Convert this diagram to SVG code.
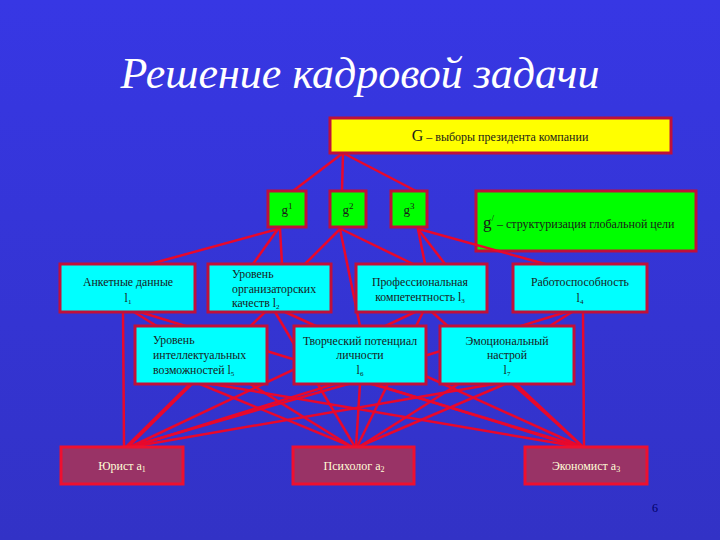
<svg xmlns="http://www.w3.org/2000/svg" width="720" height="540" viewBox="0 0 720 540">
<defs>
<linearGradient id="bg" x1="0" y1="0" x2="0" y2="1">
<stop offset="0" stop-color="#3737e4"/>
<stop offset="1" stop-color="#3232c6"/>
</linearGradient>
<style>
.t{font-family:"Liberation Serif","Times New Roman",serif;fill:#1a1a1a}
.box{stroke:#c0103a;stroke-width:3}
.y{fill:#ffff00}
.g{fill:#00ff00}
.c{fill:#00ffff}
.a{fill:#993366;stroke:#ee1030;stroke-width:3}
.s{font-size:11.8px}
.w{fill:#ffffd8;font-size:12px}
#connectors line{stroke:#e8082c;stroke-width:2.5;stroke-linecap:round}
</style>
</defs>
<rect width="720" height="540" fill="url(#bg)"/>
<text x="360" y="88" text-anchor="middle" font-family="Liberation Serif, serif" font-style="italic" font-size="44" fill="#ffffff">Решение кадровой задачи</text>

<g id="node-gprime">
<rect class="box g" x="476" y="191" width="220" height="60"/>
<text class="t" x="483" y="228"><tspan font-size="17">g</tspan><tspan font-size="9" dy="-7">/</tspan><tspan font-size="12" dy="7"> – структуризация глобальной цели</tspan></text>
</g>

<g id="connectors">
<line x1="343" y1="153" x2="293" y2="191"/>
<line x1="343" y1="153" x2="342" y2="191"/>
<line x1="343" y1="153" x2="416" y2="191"/>
<line x1="278" y1="229" x2="150" y2="264"/>
<line x1="278" y1="229" x2="253" y2="264"/>
<line x1="280" y1="229" x2="282" y2="264"/>
<line x1="340" y1="229" x2="305" y2="264"/>
<line x1="340" y1="229" x2="360" y2="326"/>
<line x1="341" y1="229" x2="413" y2="264"/>
<line x1="418" y1="229" x2="425" y2="264"/>
<line x1="418" y1="229" x2="445" y2="264"/>
<line x1="419" y1="229" x2="545" y2="264"/>
<line x1="123" y1="312" x2="124" y2="447"/>
<line x1="134" y1="312" x2="352" y2="447"/>
<line x1="140" y1="312" x2="578" y2="447"/>
<line x1="265" y1="312" x2="128" y2="447"/>
<line x1="275" y1="312" x2="355" y2="447"/>
<line x1="285" y1="312" x2="582" y2="447"/>
<line x1="415" y1="312" x2="130" y2="447"/>
<line x1="423" y1="312" x2="357" y2="447"/>
<line x1="432" y1="312" x2="583" y2="447"/>
<line x1="566" y1="312" x2="132" y2="447"/>
<line x1="572" y1="312" x2="359" y2="447"/>
<line x1="583" y1="312" x2="584" y2="447"/>
<line x1="190" y1="384" x2="126" y2="447"/>
<line x1="200" y1="384" x2="353" y2="447"/>
<line x1="212" y1="384" x2="580" y2="447"/>
<line x1="348" y1="384" x2="129" y2="447"/>
<line x1="360" y1="384" x2="356" y2="447"/>
<line x1="372" y1="384" x2="582" y2="447"/>
<line x1="494" y1="384" x2="131" y2="447"/>
<line x1="505" y1="384" x2="358" y2="447"/>
<line x1="516" y1="384" x2="583" y2="447"/>
</g>

<g id="node-G">
<rect class="box y" x="330" y="118" width="341" height="35"/>
<text class="t" x="500" y="141" text-anchor="middle"><tspan font-size="16">G</tspan><tspan font-size="12"> – выборы президента компании</tspan></text>
</g>
<g id="node-g1">
<rect class="box g" x="268" y="191" width="38" height="36"/>
<text class="t" x="287" y="214" text-anchor="middle"><tspan font-size="13">g</tspan><tspan font-size="9" dy="-5">1</tspan></text>
</g>
<g id="node-g2">
<rect class="box g" x="330" y="191" width="36" height="36"/>
<text class="t" x="348" y="214" text-anchor="middle"><tspan font-size="13">g</tspan><tspan font-size="9" dy="-5">2</tspan></text>
</g>
<g id="node-g3">
<rect class="box g" x="391" y="191" width="36" height="36"/>
<text class="t" x="409" y="214" text-anchor="middle"><tspan font-size="13">g</tspan><tspan font-size="9" dy="-5">3</tspan></text>
</g>

<g id="node-l1">
<rect class="box c" x="60" y="264" width="135" height="48"/>
<text class="t s" x="128" y="286" text-anchor="middle">Анкетные данные</text>
<text class="t s" x="128" y="302" text-anchor="middle">l<tspan font-size="7" dy="2">1</tspan></text>
</g>
<g id="node-l2">
<rect class="box c" x="208" y="264" width="123" height="48"/>
<text class="t s" x="232" y="278">Уровень</text>
<text class="t s" x="232" y="293">организаторских</text>
<text class="t s" x="232" y="307">качеств l<tspan font-size="7" dy="2">2</tspan></text>
</g>
<g id="node-l3">
<rect class="box c" x="356" y="264" width="131" height="48"/>
<text class="t s" x="420" y="286" text-anchor="middle">Профессиональная</text>
<text class="t s" x="420" y="301" text-anchor="middle">компетентность l<tspan font-size="7" dy="2">3</tspan></text>
</g>
<g id="node-l4">
<rect class="box c" x="513" y="264" width="134" height="48"/>
<text class="t s" x="580" y="286" text-anchor="middle">Работоспособность</text>
<text class="t s" x="580" y="302" text-anchor="middle">l<tspan font-size="7" dy="2">4</tspan></text>
</g>
<g id="node-l5">
<rect class="box c" x="135" y="326" width="132" height="58"/>
<text class="t s" x="153" y="344">Уровень</text>
<text class="t s" x="153" y="359">интеллектуальных</text>
<text class="t s" x="153" y="374">возможностей l<tspan font-size="7" dy="2">5</tspan></text>
</g>
<g id="node-l6">
<rect class="box c" x="294" y="326" width="132" height="58"/>
<text class="t s" x="360" y="345" text-anchor="middle">Творческий потенциал</text>
<text class="t s" x="360" y="359" text-anchor="middle">личности</text>
<text class="t s" x="360" y="374" text-anchor="middle">l<tspan font-size="7" dy="2">6</tspan></text>
</g>
<g id="node-l7">
<rect class="box c" x="440" y="326" width="134" height="58"/>
<text class="t s" x="507" y="345" text-anchor="middle">Эмоциональный</text>
<text class="t s" x="507" y="359" text-anchor="middle">настрой</text>
<text class="t s" x="507" y="374" text-anchor="middle">l<tspan font-size="7" dy="2">7</tspan></text>
</g>

<g id="node-a1">
<rect class="a" x="61" y="447" width="122" height="37"/>
<text class="t w" x="122" y="470" text-anchor="middle">Юрист a<tspan font-size="8" dy="2">1</tspan></text>
</g>
<g id="node-a2">
<rect class="a" x="293" y="447" width="121" height="37"/>
<text class="t w" x="354" y="470" text-anchor="middle">Психолог a<tspan font-size="8" dy="2">2</tspan></text>
</g>
<g id="node-a3">
<rect class="a" x="525" y="447" width="122" height="37"/>
<text class="t w" x="586" y="470" text-anchor="middle">Экономист a<tspan font-size="8" dy="2">3</tspan></text>
</g>

<text x="655" y="512" text-anchor="middle" font-family="Liberation Serif, serif" font-size="12" fill="#000066">6</text>
</svg>
